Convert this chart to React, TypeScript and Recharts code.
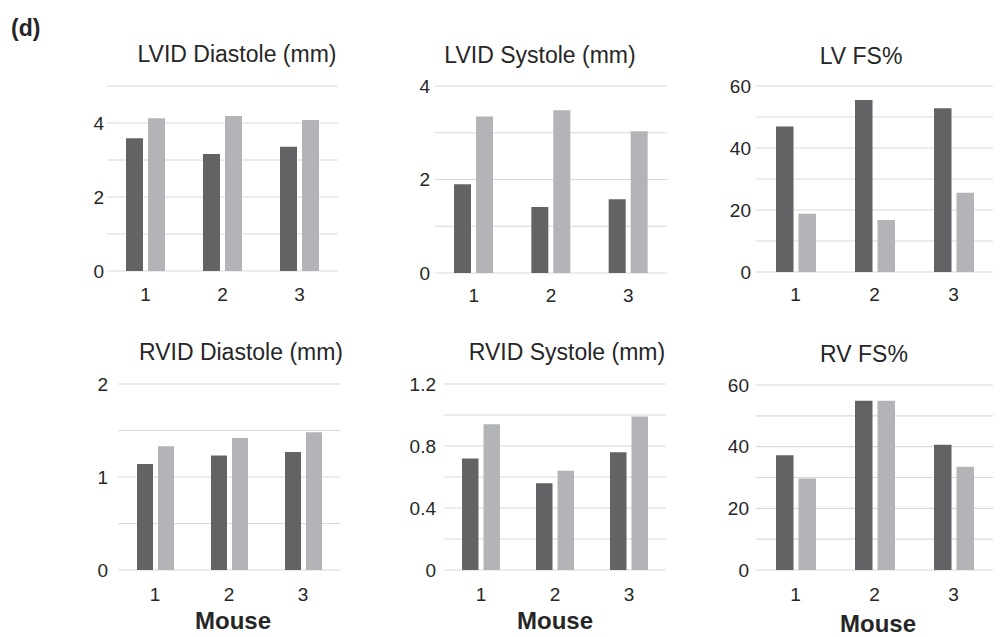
import React from "react";
import { BarChart, Bar, XAxis, YAxis, CartesianGrid } from "recharts";

const FONT = '"Liberation Sans", Arial, Helvetica, sans-serif';
const DARK = "#636365";
const LIGHT = "#b3b4b7";
const GRID = "#d9d9d9";
const TEXT = "#262626";

// mice on the x axis
const mice = ["1", "2", "3"];

// left ventricle
const lvidDiastole1 = [3.59, 3.16, 3.36];
const lvidDiastole2 = [4.13, 4.19, 4.08];
const lvidSystole1 = [1.9, 1.41, 1.58];
const lvidSystole2 = [3.35, 3.48, 3.03];
const lvFs1 = [46.9, 55.5, 52.8];
const lvFs2 = [18.8, 16.8, 25.6];

// right ventricle
const rvidDiastole1 = [1.14, 1.23, 1.27];
const rvidDiastole2 = [1.33, 1.42, 1.48];
const rvidSystole1 = [0.72, 0.56, 0.76];
const rvidSystole2 = [0.94, 0.64, 0.99];
const rvFs1 = [37.2, 54.9, 40.6];
const rvFs2 = [29.7, 54.9, 33.5];

// gridline ticks and the ones that get a label
const ticksMm5 = [0, 1, 2, 3, 4, 5];
const ticksMm4 = [0, 1, 2, 3, 4];
const labelsMm4 = [0, 2, 4];
const ticksPct = [0, 10, 20, 30, 40, 50, 60];
const labelsPct = [0, 20, 40, 60];
const ticksMm2 = [0, 0.5, 1, 1.5, 2];
const labelsMm2 = [0, 1, 2];
const ticksMm12 = [0, 0.2, 0.4, 0.6, 0.8, 1, 1.2];
const labelsMm12 = [0, 0.4, 0.8, 1.2];

type Rect = { x: number; y: number; w: number; h: number };

interface PanelProps {
  a: number[];
  b: number[];
  ticks: number[];
  labels: number[];
  plot: Rect;
  barSize: number;
  yGap: number;
  xGap: number;
}

function Panel({ a, b, ticks, labels, plot, barSize, yGap, xGap }: PanelProps) {
  const data = mice.map((m, i) => ({ mouse: m, group1: a[i], group2: b[i] }));
  const ml = 70;
  const mt = 10;
  const mr = 6;
  const mb = 40;
  const tickStyle = { fill: TEXT, fontSize: 19, fontFamily: FONT };
  return (
    <div style={{ position: "absolute", left: plot.x - ml, top: plot.y - mt }}>
      <BarChart
        width={plot.w + ml + mr}
        height={plot.h + mt + mb}
        data={data}
        margin={{ top: mt, right: mr, left: 0, bottom: 0 }}
        barGap={5}
      >
        <CartesianGrid vertical={false} stroke={GRID} strokeWidth={1.2} />
        <XAxis
          dataKey="mouse"
          height={mb}
          axisLine={false}
          tickLine={false}
          tickSize={0}
          tickMargin={xGap}
          interval={0}
          tick={tickStyle}
        />
        <YAxis
          width={ml}
          domain={[ticks[0], ticks[ticks.length - 1]]}
          ticks={ticks}
          interval={0}
          axisLine={false}
          tickLine={false}
          tickSize={0}
          tickMargin={yGap}
          tickFormatter={(v: number) => (labels.includes(v) ? String(v) : "")}
          tick={tickStyle}
        />
        <Bar dataKey="group1" fill={DARK} barSize={barSize} isAnimationActive={false} />
        <Bar dataKey="group2" fill={LIGHT} barSize={barSize} isAnimationActive={false} />
      </BarChart>
    </div>
  );
}

function Caption({ text, cx, cy, size, bold }: { text: string; cx: number; cy: number; size: number; bold?: boolean }) {
  return (
    <div
      style={{
        position: "absolute",
        left: cx - 150,
        top: cy - size / 2,
        width: 300,
        textAlign: "center",
        fontSize: size,
        lineHeight: `${size}px`,
        fontWeight: bold ? 700 : 400,
        color: TEXT,
        whiteSpace: "nowrap",
      }}
    >
      {text}
    </div>
  );
}

export default function App() {
  return (
    <div
      style={{
        position: "absolute",
        left: 0,
        top: 0,
        width: 1006,
        height: 637,
        background: "#fff",
        fontFamily: FONT,
        overflow: "hidden",
      }}
    >
      <div
        style={{
          position: "absolute",
          left: 11,
          top: 17,
          fontSize: 23,
          lineHeight: "23px",
          fontWeight: 700,
          color: TEXT,
        }}
      >
        (d)
      </div>

      <Caption text="LVID Diastole (mm)" cx={237} cy={54} size={23} />
      <Caption text="LVID Systole (mm)" cx={540} cy={55} size={23} />
      <Caption text="LV FS%" cx={861} cy={56} size={23} />
      <Caption text="RVID Diastole (mm)" cx={241} cy={352} size={23} />
      <Caption text="RVID Systole (mm)" cx={567} cy={352} size={23} />
      <Caption text="RV FS%" cx={864} cy={354} size={23} />

      <Panel a={lvidDiastole1} b={lvidDiastole2} ticks={ticksMm5} labels={labelsMm4}
        plot={{ x: 107, y: 86, w: 231, h: 185 }} barSize={17} yGap={3} xGap={17} />
      <Panel a={lvidSystole1} b={lvidSystole2} ticks={ticksMm4} labels={labelsMm4}
        plot={{ x: 435, y: 86, w: 232, h: 187 }} barSize={17} yGap={5} xGap={16} />
      <Panel a={lvFs1} b={lvFs2} ticks={ticksPct} labels={labelsPct}
        plot={{ x: 756, y: 86, w: 237, h: 186 }} barSize={17.5} yGap={5} xGap={16} />
      <Panel a={rvidDiastole1} b={rvidDiastole2} ticks={ticksMm2} labels={labelsMm2}
        plot={{ x: 118, y: 384, w: 222, h: 186 }} barSize={16} yGap={10} xGap={18} />
      <Panel a={rvidSystole1} b={rvidSystole2} ticks={ticksMm12} labels={labelsMm12}
        plot={{ x: 444, y: 384, w: 222, h: 186 }} barSize={16.5} yGap={8} xGap={18} />
      <Panel a={rvFs1} b={rvFs2} ticks={ticksPct} labels={labelsPct}
        plot={{ x: 756, y: 385, w: 237, h: 185 }} barSize={17.5} yGap={7} xGap={18} />

      <Caption text="Mouse" cx={233} cy={621} size={24} bold />
      <Caption text="Mouse" cx={555} cy={621} size={24} bold />
      <Caption text="Mouse" cx={878} cy={624} size={24} bold />
    </div>
  );
}
